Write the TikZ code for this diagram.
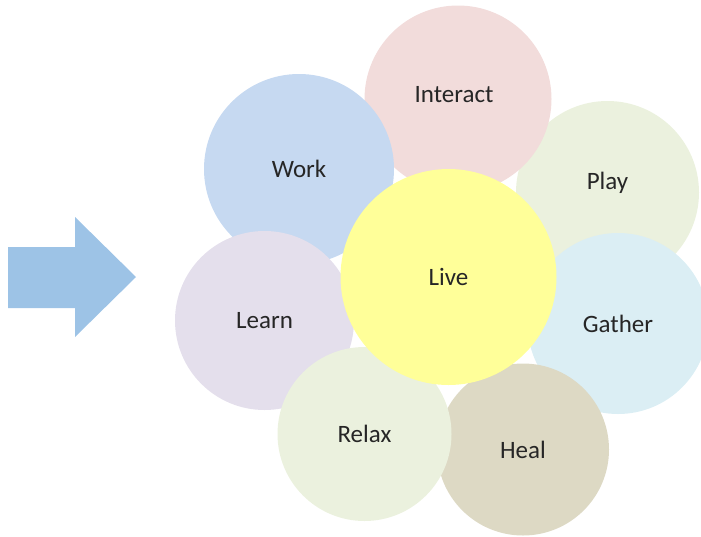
\documentclass[tikz,border=0pt]{standalone}
\usepackage{fontspec}
\setmainfont{Carlito}
\usepackage{xcolor}
\usetikzlibrary{positioning}
\definecolor{ArrowBlue}{HTML}{9DC3E6}
\definecolor{InteractPink}{HTML}{F2DCDB}
\definecolor{WorkBlue}{HTML}{C6D9F1}
\definecolor{PlayGreen}{HTML}{EBF1DE}
\definecolor{LearnLilac}{HTML}{E4DFEC}
\definecolor{GatherBlue}{HTML}{DBEEF4}
\definecolor{HealTan}{HTML}{DDD9C4}
\definecolor{LiveYellow}{HTML}{FFFF99}
\tikzset{petal/.style={circle,inner sep=0pt,text=black!85,font=\fontsize{25}{29}\selectfont}}

\begin{document}
\begin{tikzpicture}[x=1pt,y=-1pt]
\useasboundingbox (0,0) rectangle (701,536);
\clip (0,0) rectangle (701,536);
\fill[color=ArrowBlue] (8,247) -- (75,247) -- (75,217) -- (136,277) -- (75,337) -- (75,308) -- (8,308) -- cycle;
% outer circles, back to front
\node[petal,fill=PlayGreen,minimum size=183pt,label={[petal,yshift=10pt]center:Play}] (play) at (607.5,192.5) {};
\node[petal,fill=InteractPink,minimum size=187pt,label={[petal,xshift=-4pt,yshift=4pt]center:Interact}] (interact) at (458,99) {};
\node[petal,fill=WorkBlue,minimum size=190pt] (work) at (299,169) {Work};
\node[petal,fill=LearnLilac,minimum size=179pt] (learn) at (264.5,320.5) {Learn};
\node[petal,fill=GatherBlue,minimum size=181pt] (gather) at (618,323.5) {Gather};
\node[petal,fill=HealTan,minimum size=172pt] (heal) at (523,449.5) {Heal};
\node[petal,fill=PlayGreen,minimum size=174pt] (relax) at (364.5,434) {Relax};
% centre
\node[petal,fill=LiveYellow,minimum size=216pt] (live) at (448.5,277) {Live};
\end{tikzpicture}
\end{document}
